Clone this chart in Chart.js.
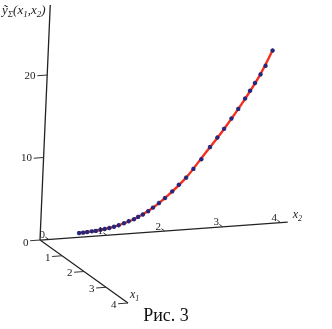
<!DOCTYPE html>
<html>
<head>
<meta charset="utf-8">
<script src="https://cdn.jsdelivr.net/npm/chart.js@4.4.1/dist/chart.umd.min.js"></script>
<style>
  html, body { margin: 0; padding: 0; background: #fff; }
  #wrap { position: relative; width: 332px; height: 329px; }
  #caption { position: absolute; left: 0; top: 305px; width: 332px; text-align: center;
    font: 18px "Liberation Serif", "Times New Roman", serif; color: #111; }
</style>
</head>
<body>
<div id="wrap">
  <canvas id="plot" width="332" height="329"></canvas>
  <div id="caption">Рис. 3</div>
</div>
<script>
// model curve (red line), x1 = 0
const lineX2 = [0.52, 0.84, 1.14, 1.44, 1.73, 2.03, 2.33, 2.62, 2.92, 3.22, 3.52, 3.73];
const lineY  = [0.5, 0.65, 1.0, 1.65, 2.7, 4.3, 6.3, 8.9, 11.6, 14.6, 18.0, 21.0];

// measured points (blue stars), x1 = 0
const pointsX2 = [0.52, 0.59, 0.66, 0.74, 0.81, 0.89, 0.96, 1.04, 1.12, 1.20, 1.29, 1.37,
  1.46, 1.53, 1.61, 1.70, 1.78, 1.88, 1.98, 2.10, 2.21, 2.33, 2.45, 2.58, 2.72, 2.84,
  2.95, 3.07, 3.18, 3.29, 3.37, 3.45, 3.54, 3.62, 3.73];
const pointsY = [0.5, 0.52, 0.55, 0.6, 0.62, 0.72, 0.78, 0.85, 0.97, 1.1, 1.3, 1.5,
  1.7, 1.95, 2.2, 2.55, 2.95, 3.45, 4.0, 4.75, 5.5, 6.3, 7.3, 8.4, 9.8, 10.9,
  11.9, 13.1, 14.2, 15.4, 16.3, 17.2, 18.2, 19.2, 21.0];

// axes
const zTicks = [0, 10, 20];
const x1Ticks = [1, 2, 3, 4];
const x2Ticks = [0, 1, 2, 3, 4];
const x2Min = -0.15, x2Max = 4.12;
const x1Max = 4;
const zMax = 28.5;

// oblique projection of (x1, x2, z) onto the page
const origin = { x: 48.7, y: 239.4 };
const ex2 = { x: 58, y: -4.2 };
const ex1 = { x: 22, y: 15.75 };
const ez = { x: 0.36, y: -8.25 };
function proj(x1, x2, z) {
  return {
    x: origin.x + x1 * ex1.x + x2 * ex2.x + z * ez.x,
    y: origin.y + x1 * ex1.y + x2 * ex2.y + z * ez.y
  };
}

const axisLines = [
  proj(0, x2Min, zMax), proj(0, x2Min, 0), proj(x1Max, x2Min, 0), { x: null, y: null },
  proj(0, x2Min, 0), proj(0, x2Max, 0)
];

const tickLines = [];
zTicks.forEach(z => { tickLines.push(proj(0, x2Min, z), proj(0, x2Min - 0.17, z), { x: null, y: null }); });
x1Ticks.forEach(t => { tickLines.push(proj(t, x2Min, 0), proj(t, x2Min - 0.17, 0), { x: null, y: null }); });
x2Ticks.forEach(t => { tickLines.push(proj(0, t, 0), proj(-0.15, t, 0), { x: null, y: null }); });

const curve = lineX2.map((t, i) => proj(0, t, lineY[i]));
const stars = pointsX2.map((t, i) => proj(0, t, pointsY[i]));

// text: subscripts drawn smaller and lower
function drawRich(ctx, x, y, parts, size) {
  let cx = x;
  parts.forEach(p => {
    ctx.font = 'italic ' + (p.sub ? size - 4 : size) + 'px "Liberation Serif"';
    ctx.fillText(p.t, cx, y + (p.sub ? 3 : 0));
    cx += ctx.measureText(p.t).width;
  });
}

const labels = {
  id: 'labels',
  afterDatasetsDraw(chart) {
    const ctx = chart.ctx;
    const xs = chart.scales.x, ys = chart.scales.y;
    const px = p => ({ x: xs.getPixelForValue(p.x), y: ys.getPixelForValue(p.y) });
    ctx.save();
    ctx.fillStyle = '#222';
    ctx.font = '11px "Liberation Serif"';
    ctx.textAlign = 'right';
    ctx.textBaseline = 'middle';
    zTicks.forEach(z => {
      const p = px(proj(0, x2Min - 0.2, z));
      ctx.fillText(String(z), p.x, p.y + (z === 0 ? 2 : 0));
    });
    x1Ticks.forEach(t => {
      const p = px(proj(t, x2Min - 0.2, 0));
      ctx.fillText(String(t), p.x, p.y + 1);
    });
    ctx.textBaseline = 'alphabetic';
    x2Ticks.forEach(t => {
      const p = px(proj(-0.15, t, 0));
      ctx.fillText(String(t), p.x - 0.5, p.y + 1);
    });
    ctx.textAlign = 'left';
    // axis titles
    const e2 = px(proj(0, x2Max, 0));
    drawRich(ctx, e2.x + 5, e2.y - 4, [{ t: 'x' }, { t: '2', sub: true }], 12);
    const e1 = px(proj(x1Max, x2Min, 0));
    drawRich(ctx, e1.x + 2, e1.y - 5, [{ t: 'x' }, { t: '1', sub: true }], 12);
    drawRich(ctx, 2, 14, [{ t: 'ỹ' }, { t: 'Σ', sub: true }, { t: '(x' }, { t: '1', sub: true },
      { t: ',x' }, { t: '2', sub: true }, { t: ')' }], 13);
    ctx.restore();
  }
};

new Chart(document.getElementById('plot'), {
  type: 'scatter',
  data: {
    datasets: [
      { data: stars, order: 0, showLine: false, pointStyle: 'star', pointRadius: 2.2,
        borderColor: '#26267a', backgroundColor: '#26267a', pointBorderWidth: 1.3 },
      { data: curve, order: 1, showLine: true, borderColor: '#f2301f', borderWidth: 2.4,
        pointRadius: 0, cubicInterpolationMode: 'monotone' },
      { data: tickLines, order: 2, showLine: true, spanGaps: false, borderColor: '#333',
        borderWidth: 1, pointRadius: 0 },
      { data: axisLines, order: 3, showLine: true, spanGaps: false, borderColor: '#222',
        borderWidth: 1.3, pointRadius: 0 }
    ]
  },
  options: {
    responsive: false,
    animation: false,
    devicePixelRatio: 1,
    layout: { padding: 0, autoPadding: false },
    plugins: { legend: { display: false }, tooltip: { enabled: false } },
    scales: {
      x: { type: 'linear', display: false, min: 0, max: 332 },
      y: { type: 'linear', display: false, min: 0, max: 329, reverse: true }
    }
  },
  plugins: [labels]
});
</script>
</body>
</html>
